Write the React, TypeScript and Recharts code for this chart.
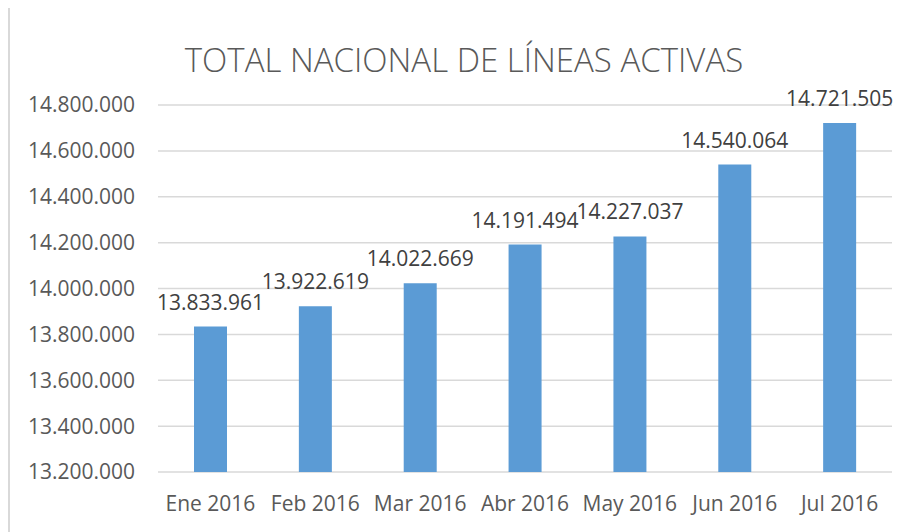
import React from "react";
import { BarChart, Bar, XAxis, YAxis, CartesianGrid, LabelList } from "recharts";

const categories = ["Ene 2016", "Feb 2016", "Mar 2016", "Abr 2016", "May 2016", "Jun 2016", "Jul 2016"];
const lineas = [13833961, 13922619, 14022669, 14191494, 14227037, 14540064, 14721505];
const yTicks = [13200000, 13400000, 13600000, 13800000, 14000000, 14200000, 14400000, 14600000, 14800000];
const title = "TOTAL NACIONAL DE LÍNEAS ACTIVAS";

const data = categories.map((c, i) => ({ mes: c, valor: lineas[i] }));

const fmt = (v: number) => String(Math.round(v)).replace(/\B(?=(\d{3})+(?!\d))/g, ".");

const FONT = "'Open Sans', 'Noto Sans', sans-serif";

export default function App() {
  return (
    <div
      style={{
        position: "relative",
        width: 898,
        height: 530,
        marginTop: -2,
        borderLeft: "2px solid #d9d9d9",
        borderTop: "2px solid #d9d9d9",
        background: "#fff",
        fontFamily: FONT,
      }}
    >
      <div
        style={{
          position: "absolute",
          left: 0,
          width: 908,
          top: 30,
          textAlign: "center",
          fontSize: 33,
          fontWeight: 300,
          color: "#595959",
          lineHeight: "44px",
          whiteSpace: "nowrap",
        }}
      >
        {title}
      </div>
      <BarChart
        width={898}
        height={524}
        data={data}
        margin={{ top: 97, right: 16, left: 0, bottom: 30 }}
        style={{ fontFamily: FONT }}
      >
        <CartesianGrid vertical={false} stroke="#d9d9d9" strokeWidth={1.5} />
        <XAxis
          dataKey="mes"
          height={30}
          axisLine={false}
          tickLine={false}
          tickSize={0}
          tickMargin={24}
          tick={{ fill: "#595959", fontSize: 21 }}
          interval={0}
        />
        <YAxis
          width={148}
          domain={[13200000, 14800000]}
          ticks={yTicks}
          axisLine={false}
          tickLine={false}
          tickSize={0}
          tickMargin={23}
          tickFormatter={fmt}
          tick={{ fill: "#595959", fontSize: 21 }}
          allowDataOverflow
        />
        <Bar dataKey="valor" fill="#5b9bd5" barSize={33} isAnimationActive={false}>
          <LabelList
            dataKey="valor"
            position="top"
            offset={17}
            formatter={(v: any) => fmt(Number(v))}
            style={{ fill: "#404040", fontSize: 21 }}
          />
        </Bar>
      </BarChart>
    </div>
  );
}
